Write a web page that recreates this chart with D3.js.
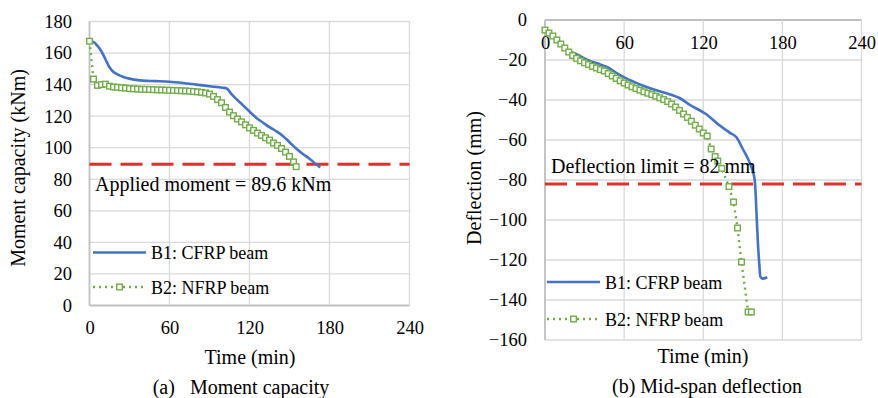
<!DOCTYPE html>
<html>
<head>
<meta charset="utf-8">
<script src="https://cdn.jsdelivr.net/npm/d3@7"></script>
<style>
  body { margin: 0; background: #fff; }
  svg text { font-family: "Liberation Serif", "DejaVu Serif", "Times New Roman", Times, serif; fill: #000; }
</style>
</head>
<body>
<script>
var width = 878,
    height = 398;

// ---- data ----
var timeTicks = [0, 60, 120, 180, 240];
var momentTicks = [0, 20, 40, 60, 80, 100, 120, 140, 160, 180];
var deflTicks = [-160, -140, -120, -100, -80, -60, -40, -20, 0];

var seriesNames = ["B1: CFRP beam", "B2: NFRP beam"];
var appliedMoment = 89.6,
    deflLimit = -82;

// (a) moment capacity, B1 CFRP
var b1MomentTime = [0, 3, 6, 9, 12, 15, 18, 21, 25, 30, 35, 40, 50, 60, 70, 80, 90, 100, 103,
    106, 110, 115, 120, 125, 130, 135, 140, 145, 150, 155, 160, 165, 170, 173];
var b1Moment = [167.5, 167, 164.5, 161, 156, 151, 148, 146.5, 145, 143.8, 143, 142.5, 142.2, 141.8, 141, 140, 139, 138, 137.6,
    134.5, 131, 127, 123, 119, 116, 113, 110.5, 107.5, 103.5, 99.5, 96, 93, 89.5, 87.5];

// (a) moment capacity, B2 NFRP
var b2MomentTime = [0, 3, 6, 9, 12, 15, 18, 21, 24, 27, 30, 33, 36, 39, 42, 45, 48, 51, 54, 57, 60,
    63, 66, 69, 72, 75, 78, 81, 84, 87, 90, 93, 96, 99, 102, 105, 108, 111, 114, 117, 120,
    123, 126, 129, 132, 135, 138, 141, 144, 147, 150, 153, 155];
var b2Moment = [167.5, 143.5, 139.5, 140, 140.3, 139, 138.5, 138.3, 138, 137.8, 137.5, 137.3, 137.2, 137, 137, 136.9, 136.8, 136.7, 136.6, 136.5, 136.4,
    136.3, 136.2, 136.1, 136, 135.8, 135.6, 135.4, 135.1, 134.7, 134, 132.5, 130.5, 128.5, 125.5, 122.6, 120.3, 118.2, 116.4, 114.5, 112.6,
    111, 109.3, 107.8, 106.3, 104.8, 103, 101.5, 99.5, 97.2, 94.5, 91, 88];

// (b) mid-span deflection, B1 CFRP
var b1DeflTime = [0, 8, 16, 25, 34, 40, 47, 55, 62, 67, 75, 85, 95, 102, 110, 122, 132, 140, 145,
    150, 154, 157, 159, 159.8, 160.6, 161.5, 162.5, 163.3, 165, 168.5];
var b1Defl = [-5, -9, -14.5, -17.5, -20.5, -21.8, -23.5, -26.8, -29.3, -30.8, -33, -35.3, -37.2, -39, -42.5, -47, -52.5, -56.3, -58.5,
    -64.5, -69.5, -74.5, -80, -88, -100, -112, -122, -128.3, -129.3, -128.6];

// (b) mid-span deflection, B2 NFRP
var b2DeflTime = [0, 3, 6, 9, 12, 15, 18, 21, 24, 27, 30, 33, 36, 39, 42, 45, 48, 51, 54, 57, 60,
    63, 66, 69, 72, 75, 78, 81, 84, 87, 90, 93, 96, 99, 102, 105, 108, 111, 114, 117, 120,
    123, 126, 129, 131, 134, 139.5, 143, 146, 149, 154, 156.5];
var b2Defl = [-5, -6.5, -8, -10, -12, -14, -16, -17.8, -19.2, -20.4, -21.4, -22.3, -23.2, -24, -24.8, -25.5, -26.8, -28, -29.2, -30.4, -31.5,
    -32.5, -33.4, -34.3, -35.1, -35.9, -36.6, -37.3, -38.1, -38.9, -39.8, -40.8, -42, -43.5, -45.2, -47, -48.7, -50.6, -52.6, -54.5, -56.5,
    -58, -64.5, -68.3, -70.5, -74.2, -83.3, -91, -104, -121, -146, -146];

var blue = "#4472c4",
    green = "#70ad47",
    red = "#e0302a",
    gridCol = "#d9d9d9",
    axisCol = "#bfbfbf";

var serif = "'Liberation Serif', 'DejaVu Serif', 'Times New Roman', Times, serif";

var svg = d3.select("body").append("svg")
    .attr("width", width)
    .attr("height", height)
    .attr("font-family", serif);

svg.append("rect").attr("width", width).attr("height", height).attr("fill", "#fff");

function zip(a, b) { return a.map(function(d, i) { return [d, b[i]]; }); }

function drawChart(opt) {
  var x = d3.scaleLinear().domain([0, 240]).range(opt.xr),
      y = d3.scaleLinear().domain(opt.yd).range(opt.yr);
  var g = svg.append("g");

  // grid
  g.selectAll(".hgrid").data(opt.yTicks).enter().append("line")
      .attr("x1", x(0)).attr("x2", x(240))
      .attr("y1", function(d) { return y(d); }).attr("y2", function(d) { return y(d); })
      .attr("stroke", function(d) { return d === opt.xAxisAt ? axisCol : gridCol; })
      .attr("stroke-width", function(d) { return d === opt.xAxisAt ? 1.8 : 1.3; });
  g.selectAll(".vgrid").data(timeTicks).enter().append("line")
      .attr("x1", function(d) { return x(d); }).attr("x2", function(d) { return x(d); })
      .attr("y1", y.range()[0]).attr("y2", y.range()[1])
      .attr("stroke", function(d) { return d === 0 ? axisCol : gridCol; })
      .attr("stroke-width", function(d) { return d === 0 ? 1.8 : 1.3; });

  // tick labels
  var yAxis = d3.axisLeft(y).tickValues(opt.yTicks).tickSize(0).tickPadding(0)
      .tickFormat(d3.format("d"));
  var ya = g.append("g").attr("transform", "translate(" + opt.yLabelX + ",0)").call(yAxis);
  var xAxis = d3.axisBottom(x).tickValues(timeTicks).tickSize(0).tickPadding(0);
  var xa = g.append("g").attr("transform", "translate(0," + opt.xLabelY + ")").call(xAxis);
  [ya, xa].forEach(function(a) {
    a.attr("font-family", serif).attr("font-size", null);
    a.select(".domain").remove();
    a.selectAll("text").style("font-size", "18.5px").attr("fill", "#000");
  });
  xa.selectAll("text").attr("dy", null).attr("y", 0);

  // limit line
  g.append("line")
      .attr("x1", x(0)).attr("x2", x(240))
      .attr("y1", y(opt.limit)).attr("y2", y(opt.limit))
      .attr("stroke", red).attr("stroke-width", 3)
      .attr("stroke-dasharray", "22,9");

  var line = d3.line().x(function(d) { return x(d[0]); }).y(function(d) { return y(d[1]); });

  g.append("path").datum(opt.s1)
      .attr("d", line.curve(d3.curveMonotoneX))
      .attr("fill", "none").attr("stroke", blue).attr("stroke-width", 2.6)
      .attr("stroke-linejoin", "round");

  g.append("path").datum(opt.s2)
      .attr("d", d3.line().x(function(d) { return x(d[0]); }).y(function(d) { return y(d[1]); }))
      .attr("fill", "none").attr("stroke", green).attr("stroke-width", 2.4)
      .attr("stroke-dasharray", "2,4");

  g.selectAll(".mk").data(opt.s2).enter().append("rect")
      .attr("x", function(d) { return x(d[0]) - 2.8; })
      .attr("y", function(d) { return y(d[1]) - 2.8; })
      .attr("width", 5.6).attr("height", 5.6)
      .attr("fill", "#fff").attr("stroke", green).attr("stroke-width", 1.4);

  // annotation
  g.append("text").attr("x", opt.noteX).attr("y", opt.noteY)
      .style("font-size", "20px").text(opt.note);

  // axis titles and caption
  g.append("text").attr("x", opt.xTitle[0]).attr("y", opt.xTitle[1])
      .attr("text-anchor", "middle").style("font-size", "20px").text("Time (min)");
  g.append("text")
      .attr("transform", "translate(" + opt.yTitle[0] + "," + opt.yTitle[1] + ") rotate(-90)")
      .attr("text-anchor", "middle").style("font-size", "20px").text(opt.yTitleText);
  g.append("text").attr("x", opt.caption[0]).attr("y", opt.caption[1])
      .attr("text-anchor", "middle").style("font-size", "20px")
      .style("white-space", "pre").text(opt.captionText);

  // legend
  var lx = opt.legend[0], ly = opt.legend[1], lgap = opt.legend[2];
  g.append("line").attr("x1", lx).attr("x2", lx + 53).attr("y1", ly).attr("y2", ly)
      .attr("stroke", blue).attr("stroke-width", 2.6);
  g.append("text").attr("x", lx + 58).attr("y", ly + 6.5).style("font-size", "18px").text(seriesNames[0]);
  g.append("line").attr("x1", lx).attr("x2", lx + 53).attr("y1", ly + lgap).attr("y2", ly + lgap)
      .attr("stroke", green).attr("stroke-width", 2.4).attr("stroke-dasharray", "2,4");
  g.append("rect").attr("x", lx + 26.5 - 2.8).attr("y", ly + lgap - 2.8).attr("width", 5.6).attr("height", 5.6)
      .attr("fill", "#fff").attr("stroke", green).attr("stroke-width", 1.4);
  g.append("text").attr("x", lx + 58).attr("y", ly + lgap + 6.5).style("font-size", "18px").text(seriesNames[1]);
}

// (a) Moment capacity
drawChart({
  xr: [89.5, 409.5], yd: [0, 180], yr: [305.5, 21.5],
  yTicks: momentTicks, xAxisAt: 0,
  yLabelX: 72, xLabelY: 334,
  limit: appliedMoment,
  s1: zip(b1MomentTime, b1Moment), s2: zip(b2MomentTime, b2Moment),
  note: "Applied moment = 89.6 kNm", noteX: 95, noteY: 191,
  xTitle: [250, 364], yTitle: [25, 168], yTitleText: "Moment capacity (kNm)",
  caption: [241, 394], captionText: "(a)   Moment capacity",
  legend: [93, 252.5, 34.5]
});

// (b) Mid-span deflection
drawChart({
  xr: [545, 861.5], yd: [-160, 0], yr: [340, 20],
  yTicks: deflTicks, xAxisAt: 0,
  yLabelX: 527, xLabelY: 49,
  limit: deflLimit,
  s1: zip(b1DeflTime, b1Defl), s2: zip(b2DeflTime, b2Defl),
  note: "Deflection limit = 82 mm", noteX: 551, noteY: 173,
  xTitle: [703, 363], yTitle: [481, 178], yTitleText: "Deflection (mm)",
  caption: [707, 393], captionText: "(b) Mid-span deflection",
  legend: [547, 282, 37]
});
</script>
</body>
</html>
